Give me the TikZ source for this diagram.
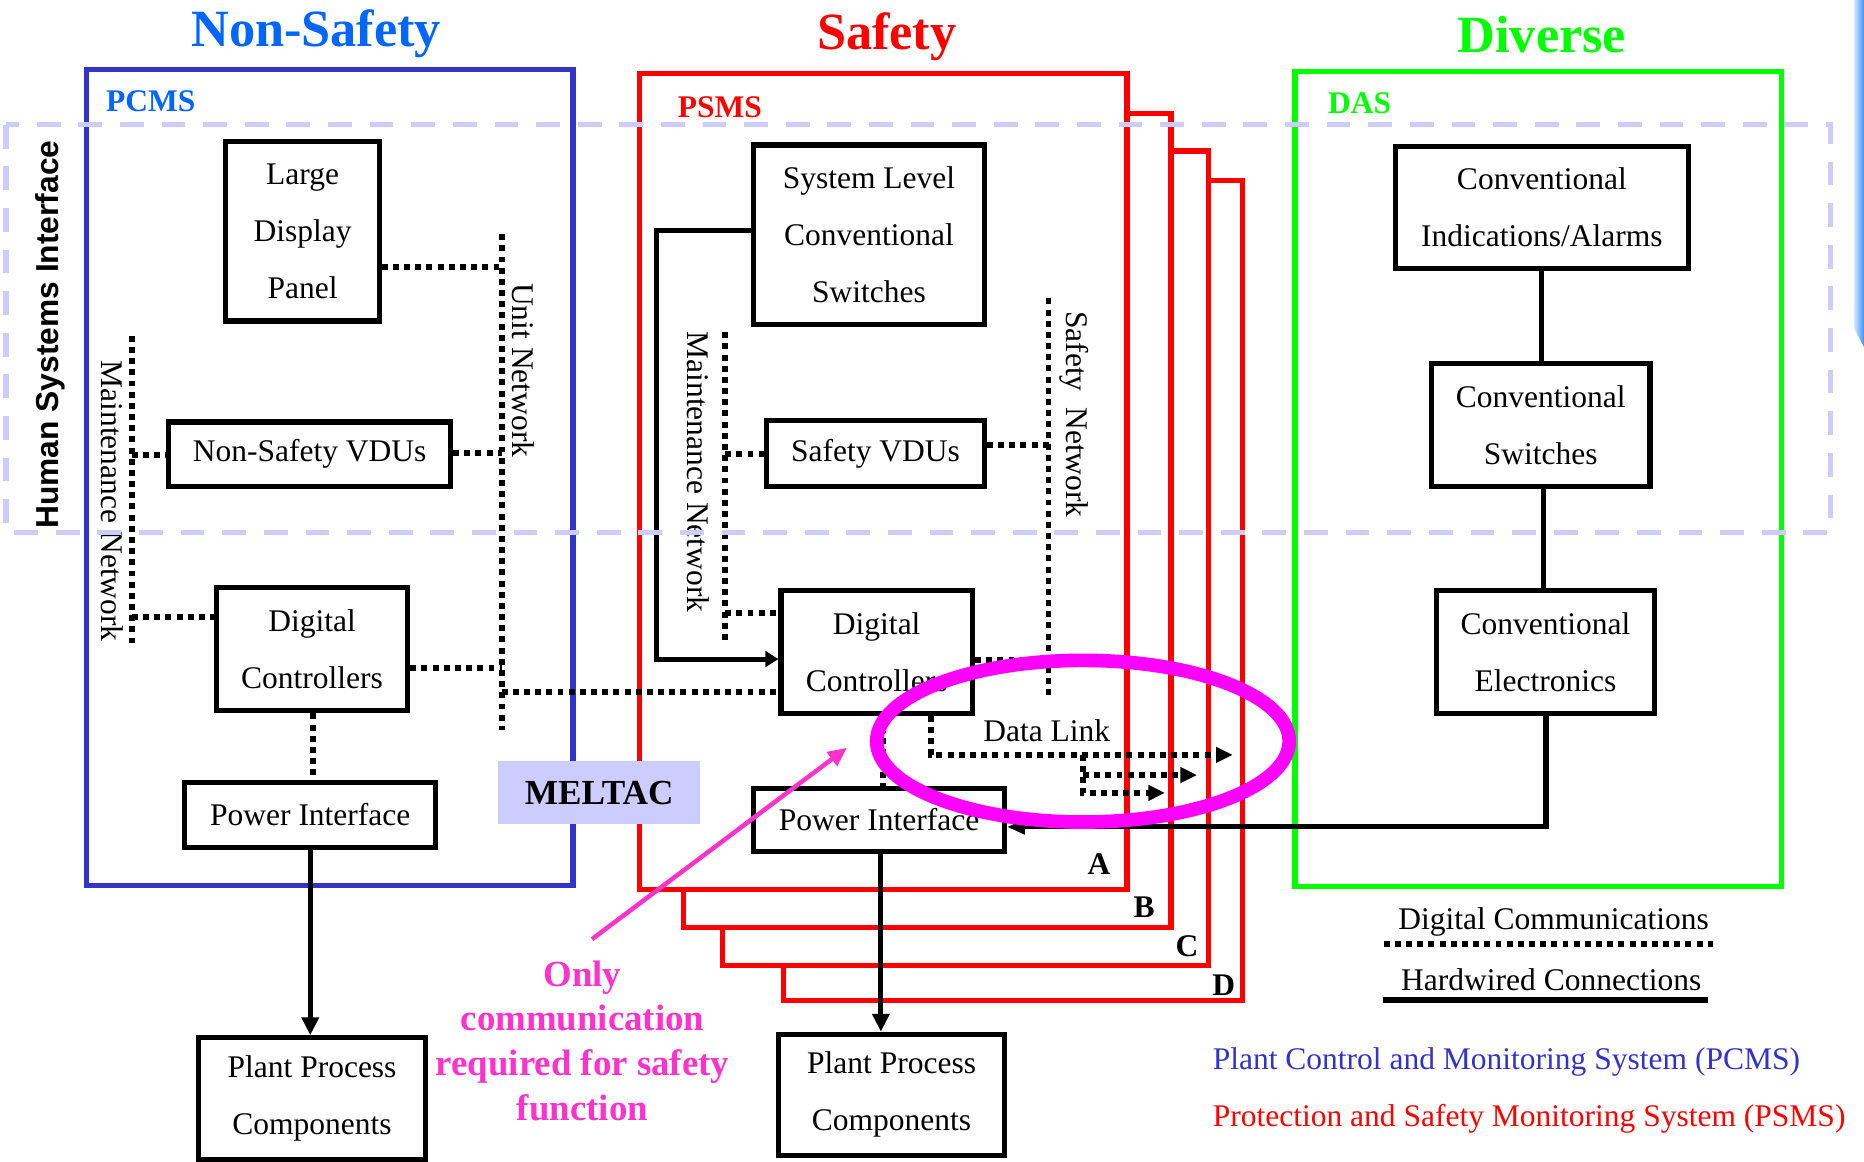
\documentclass[tikz,border=0pt]{standalone}
\usepackage{fontspec}
\setmainfont{Liberation Serif}
\newfontfamily\hsifont{Liberation Sans}
\usetikzlibrary{arrows.meta}
\definecolor{nsblue}{HTML}{0066FF}
\definecolor{pcmsblue}{HTML}{3333CC}
\definecolor{sred}{HTML}{FF0000}
\definecolor{dgreen}{HTML}{00FF00}
\definecolor{lav}{HTML}{CCCCFF}
\definecolor{mag}{HTML}{FF00FF}
\definecolor{pinktxt}{HTML}{FF33CC}
\definecolor{slivA}{HTML}{D6EAFF}
\definecolor{slivB}{HTML}{3D8EF5}
\begin{document}
\begin{tikzpicture}[x=1pt,y=-1pt,
  font=\fontsize{26.5}{48}\selectfont,
  blk/.style={draw=black, line width=4.3pt, fill=white, align=center, inner sep=0pt},
  dig/.style={line width=5pt, dash pattern=on 5pt off 4.4pt},
  hw/.style={line width=4.3pt},
  tip/.style={-{Triangle[length=14pt,width=12.6pt]}},
  bigtip/.style={-{Triangle[length=15pt,width=14pt]}},
  lbl/.style={inner sep=0pt, anchor=base},
  ttl/.style={inner sep=0pt, anchor=base, font=\bfseries\fontsize{44}{50}\selectfont},
  sys/.style={inner sep=0pt, anchor=base west, font=\bfseries\fontsize{26.5}{30}\selectfont},
  rotlbl/.style={inner sep=0pt, anchor=base, rotate=-90},
  cont/.style={line width=4.4pt},
]
\useasboundingbox (0,0) rectangle (1568,977);
\fill[white] (0,0) rectangle (1568,977);

% right-edge sliver
\shade[left color=slivA, right color=slivB] (1559.5,0) -- (1568,0) -- (1568,292) -- (1559.5,276) -- cycle;

% titles
\node[ttl, text=nsblue] (tns) at (266,39) {Non-Safety};
\node[ttl, text=sred] (ts) at (746,42) {Safety};
\node[ttl, text=dgreen] (td) at (1297,44.5) {Diverse};

% containers
\draw[cont, pcmsblue] (72.5,58.6) rectangle (482,744.6);
\draw[cont, sred] (538,62) rectangle (948,748);
\draw[cont, sred] (948,95.5) -- (985,95.5) -- (985,780) -- (575,780) -- (575,748);
\draw[cont, sred] (985,127) -- (1016.5,127) -- (1016.5,812) -- (607.5,812) -- (607.5,780);
\draw[cont, sred] (1016.5,152) -- (1045.5,152) -- (1045.5,841.5) -- (659,841.5) -- (659,812);
\draw[cont, dgreen] (1089.4,60) rectangle (1498.8,746);

\node[sys, text=nsblue] (lpcms) at (89,93.6) {PCMS};
\node[sys, text=sred] (lpsms) at (570,98.5) {PSMS};
\node[sys, text=dgreen] (ldas) at (1117,95.5) {DAS};

\node[lbl, font=\bfseries\fontsize{26.5}{30}\selectfont] (la) at (924.5,736) {A};
\node[lbl, font=\bfseries\fontsize{26.5}{30}\selectfont] (lb) at (962.5,771.5) {B};
\node[lbl, font=\bfseries\fontsize{26.5}{30}\selectfont] (lc) at (998.5,805) {C};
\node[lbl, font=\bfseries\fontsize{26.5}{30}\selectfont] (ld) at (1029.5,837) {D};

% boxes
\node[blk, minimum width=129pt, minimum height=151pt] (ldp) at (254.5,194.5) {Large\\Display\\Panel};
\node[blk, minimum width=237pt, minimum height=54pt] (nsvdu) at (260.5,382) {Non-Safety VDUs};
\node[blk, minimum width=161pt, minimum height=104pt] (dcn) at (262.5,546) {Digital\\Controllers};
\node[blk, minimum width=211pt, minimum height=55pt] (pin) at (261,685.5) {Power Interface};
\node[blk, minimum width=191pt, minimum height=102pt] (ppcn) at (262.5,924) {Plant Process\\Components};

\node[blk, minimum width=194pt, minimum height=151pt] (slcs) at (731,197.5) {System Level\\Conventional\\Switches};
\node[blk, minimum width=183pt, minimum height=55pt] (svdu) at (736.5,381.5) {Safety VDUs};
\node[blk, minimum width=161pt, minimum height=103pt] (dcs) at (737.5,548.5) {Digital\\Controllers};
\node[blk, minimum width=211pt, minimum height=53pt] (pis) at (739.5,689.5) {Power Interface};
\node[blk, minimum width=190pt, minimum height=102pt] (ppcs) at (750,921) {Plant Process\\Components};

\node[blk, minimum width=246pt, minimum height=103pt] (cia) at (1297,174.5) {Conventional\\Indications/Alarms};
\node[blk, minimum width=184pt, minimum height=103pt] (cs) at (1296,357.5) {Conventional\\Switches};
\node[blk, minimum width=184pt, minimum height=103pt] (ce) at (1300,548.5) {Conventional\\Electronics};

% networks (PCMS)
\coordinate (unT) at (422,197);
\coordinate (unB) at (422,614);
\draw[dig] (unT) -- (unB);
\draw[dig] (ldp.east |- 0,224.8) -- (unT |- 0,224.8);
\draw[dig] (nsvdu.east |- 0,381) -- (unT |- 0,381);
\draw[dig] (dcn.east |- 0,562) -- (unT |- 0,562);
\draw[dig] (unT |- 0,582) -- (dcs.west |- 0,582);
\node[rotlbl] (lun) at (431,311.5) {Unit Network};

\coordinate (mnT) at (111,282.5);
\coordinate (mnB) at (111,544);
\draw[dig] (mnT) -- (mnB);
\draw[dig] (mnT |- 0,383) -- (nsvdu.west |- 0,383);
\draw[dig] (mnT |- 0,519) -- (dcn.west |- 0,519);
\node[rotlbl] (lmn) at (85,421.5) {Maintenance Network};
\draw[dig] (dcn.south -| 263.3,0) -- (pin.north -| 263.3,0);
\draw[hw, bigtip] (pin.south) -- (pin.south |- ppcn.north);

% networks (PSMS)
\coordinate (msT) at (610,279.5);
\coordinate (msB) at (610,541);
\draw[dig] (msT) -- (msB);
\draw[dig] (msT |- 0,382) -- (svdu.west |- 0,382);
\draw[dig] (msT |- 0,516) -- (dcs.west |- 0,516);
\node[rotlbl] (lms) at (578,397) {Maintenance Network};

\coordinate (snT) at (882,251);
\coordinate (snB) at (882,588);
\draw[dig] (snT) -- (snB);
\draw[dig] (svdu.east |- 0,374) -- (snT |- 0,374);
\draw[dig] (dcs.east |- 0,555) -- (snT |- 0,555);
\node[rotlbl] (lsn) at (897,348.5) {Safety\hspace{0.5em}Network};

\draw[hw, -{Triangle[length=11pt,width=13pt]}] (slcs.west |- 0,193.7) -- ++(-79.6,0) |- (dcs.west |- 0,554.4);

% data link
\coordinate (dl1) at (1037,635);
\coordinate (dl2) at (1007,652);
\coordinate (dl3) at (980,667);
\draw[dig, tip] (dcs.south -| 783,0) |- (dl1);
\draw[dig, tip] (911,652) -- (dl2);
\draw[dig, tip] (911,635) |- (dl3);
\node[lbl, anchor=base west] (ldl) at (827,624) {Data Link};
\draw[dig] (dcs.south -| 743,0) -- (pis.north -| 743,0);
\draw[hw, bigtip] (pis.south -| 741,0) -- (ppcs.north -| 741,0);

% diverse
\draw[hw] (cia.south) -- (cia.south |- cs.north);
\draw[hw] (cs.south -| 1298.5,0) -- (ce.north -| 1298.5,0);
\draw[hw, -{Triangle[length=15pt,width=12pt]}] (ce.south -| 1300.5,0) |- (pis.east |- 0,695.6);

% MELTAC
\node[fill=lav, minimum width=170pt, minimum height=53.5pt, inner sep=0pt,
      font=\bfseries\fontsize{29.6}{34}\selectfont] (meltac) at (504,666.8) {MELTAC};

% legend
\node[lbl, anchor=base west] (ldc) at (1176,781.5) {Digital Communications};
\draw[dig] (1164,793.8) -- (1441,793.8);
\node[lbl, anchor=base west] (lhc) at (1178.5,833) {Hardwired Connections};
\draw[line width=5pt] (1163,840.8) -- (1437,840.8);
\node[lbl, anchor=base west, text=pcmsblue] (lpc) at (1020,900) {Plant Control and Monitoring System (PCMS)};
\node[lbl, anchor=base west, text=sred] (lps) at (1020,948) {Protection and Safety Monitoring System (PSMS)};

% HSI dashed region
\draw[lav, line width=4.4pt, dash pattern=on 20pt off 15pt] (5,105) rectangle (1540,448);
\node[inner sep=0pt, anchor=base, rotate=90, font=\hsifont\bfseries\fontsize{26.7}{32}\selectfont] (hsi) at (49,281.5) {Human Systems Interface};

% annotation
\node[inner sep=0pt, anchor=north, align=center, text=pinktxt,
      font=\bfseries\fontsize{31}{37.5}\selectfont] (only) at (490,808) {Only\\communication\\required for safety\\function};
\coordinate (pkS) at (498,790);
\coordinate (pkE) at (712.5,629);
\draw[pinktxt, line width=3.8pt, -{Triangle[length=16pt,width=14pt]}] (pkS) -- (pkE);
\draw[mag, line width=11.5pt] (911,623.5) ellipse [x radius=173.5, y radius=68];
\end{tikzpicture}
\end{document}
